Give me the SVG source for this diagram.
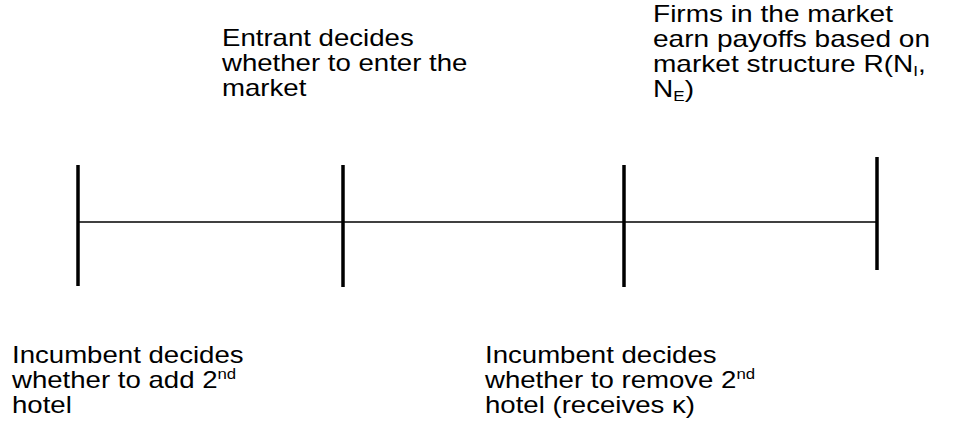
<svg xmlns="http://www.w3.org/2000/svg" width="969" height="421" viewBox="0 0 969 421">
<style>
text{font-family:"Liberation Sans",Arial,sans-serif;font-size:23px;fill:#000}
.sub{font-size:14px}
.tick{stroke:#000;stroke-width:3.5}
.axis{stroke:#000;stroke-width:1.5}
</style>
<rect width="969" height="421" fill="#fff"/>
<g id="connectors">
<line class="axis" x1="78" y1="222" x2="877" y2="222"/>
</g>
<g id="tick1"><line class="tick" x1="78" y1="165" x2="78" y2="286"/></g>
<g id="tick2"><line class="tick" x1="343" y1="165" x2="343" y2="287"/></g>
<g id="tick3"><line class="tick" x1="624" y1="165" x2="624" y2="287"/></g>
<g id="tick4"><line class="tick" x1="877" y1="157" x2="877" y2="270"/></g>
<g id="label-entrant" transform="translate(222,0) scale(1.2,1)">
<text x="0" y="46">Entrant decides</text>
<text x="0" y="71">whether to enter the</text>
<text x="0" y="96">market</text>
</g>
<g id="label-firms" transform="translate(653,0) scale(1.22,1)">
<text x="0" y="22">Firms in the market</text>
<text x="0" y="47">earn payoffs based on</text>
<text x="0" y="72">market structure R(N<tspan class="sub" dy="4">I</tspan><tspan dy="-4">,</tspan></text>
<text x="0" y="97">N<tspan class="sub" dy="4">E</tspan><tspan dy="-4">)</tspan></text>
</g>
<g id="label-add" transform="translate(12,0) scale(1.2,1)">
<text x="0" y="363">Incumbent decides</text>
<text x="0" y="388">whether to add 2<tspan class="sub" dy="-9">nd</tspan></text>
<text x="0" y="413">hotel</text>
</g>
<g id="label-remove" transform="translate(485,0) scale(1.2,1)">
<text x="0" y="363">Incumbent decides</text>
<text x="0" y="388">whether to remove 2<tspan class="sub" dy="-9">nd</tspan></text>
<text x="0" y="413">hotel (receives κ)</text>
</g>
</svg>
